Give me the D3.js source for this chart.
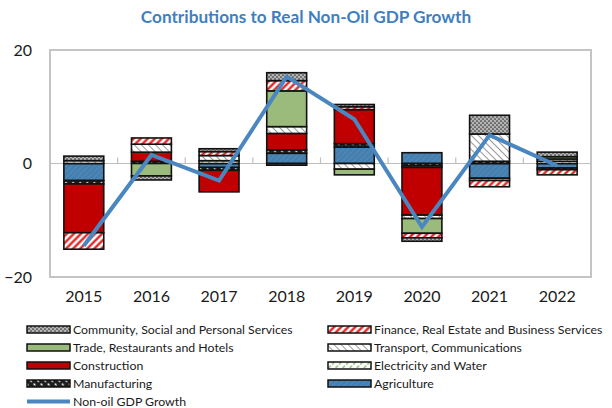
<!DOCTYPE html>
<html>
<head>
<meta charset="utf-8">
<script src="https://cdn.jsdelivr.net/npm/d3@7"></script>
<style>
  html, body { margin: 0; padding: 0; background: #fff; }
  svg { display: block; font-family: Lato, "Open Sans", sans-serif; }
</style>
</head>
<body>
<svg id="chart" width="612" height="408"></svg>
<script>
// Years on the x axis
const years = ["2015", "2016", "2017", "2018", "2019", "2020", "2021", "2022"];

// Sector contributions (percentage points), stacking order from the zero line outward
const agriculture  = [-3.0,  0.0, -0.7,  1.8,  2.9,  1.9, -2.6, -0.8];
const manufacturing= [-0.6,  0.4, -0.5,  0.6,  0.6, -0.4,  0.4, -0.3];
const electricity  = [ 0.0,  0.0,  0.5, -0.3,  0.0, -0.3, -0.4,  0.4];
const construction = [-8.6,  1.6, -3.8,  2.9,  6.0, -8.4,  0.0,  0.0];
const transport    = [ 0.5,  1.4,  0.9,  1.2, -1.0, -0.6,  4.8,  0.4];
const trade        = [ 0.0, -2.2,  0.0,  6.3, -1.0, -2.6,  0.0,  0.4];
const finance      = [-2.9,  1.1,  0.7,  1.8,  0.5, -0.8, -1.1, -0.9];
const community    = [ 0.8, -0.7,  0.5,  1.4,  0.4, -0.6,  3.3,  0.8];

// Headline series drawn as a line
const nonOilGrowth = [-14.5, 1.5, -3.0, 15.3, 7.8, -11.2, 5.0, -0.4];

// y-axis tick labels
const yTicks = [-20, 0, 20];

const sectors = [
  { key: "agriculture",   name: "Agriculture",                              values: agriculture,   fill: "url(#pat-agri)" },
  { key: "manufacturing", name: "Manufacturing",                            values: manufacturing, fill: "url(#pat-manuf)" },
  { key: "electricity",   name: "Electricity and Water",                    values: electricity,   fill: "url(#pat-elec)" },
  { key: "construction",  name: "Construction",                             values: construction,  fill: "#c00000" },
  { key: "transport",     name: "Transport, Communications",                values: transport,     fill: "url(#pat-transport)" },
  { key: "trade",         name: "Trade, Restaurants and Hotels",            values: trade,         fill: "#9bbb7d" },
  { key: "finance",       name: "Finance, Real Estate and Business Services", values: finance,     fill: "url(#pat-finance)" },
  { key: "community",     name: "Community, Social and Personal Services",  values: community,     fill: "url(#pat-community)" }
];

const table = years.map((y, i) => {
  const row = { year: y };
  sectors.forEach(s => { row[s.key] = s.values[i]; });
  return row;
});

const svg = d3.select("#chart");
const lineColor = "#4a86bf";

// ---- patterns ----
const defs = svg.append("defs");
function stripePattern(id, bg, color, size, width, angle, dash) {
  const p = defs.append("pattern").attr("id", id)
    .attr("patternUnits", "userSpaceOnUse").attr("width", size).attr("height", size)
    .attr("patternTransform", `rotate(${angle})`);
  p.append("rect").attr("width", size).attr("height", size).attr("fill", bg);
  const l = p.append("line").attr("x1", size / 2).attr("x2", size / 2)
    .attr("y1", 0).attr("y2", size)
    .attr("stroke", color).attr("stroke-width", width);
  if (dash) l.attr("stroke-dasharray", dash);
}
stripePattern("pat-finance", "#ffffff", "#e01010", 5, 2.2, 45);
stripePattern("pat-transport", "#ffffff", "#9a9a9a", 5, 1, -45);
stripePattern("pat-elec", "#ffffff", "#86b56a", 5, 1.4, 45, "3 1.5");
stripePattern("pat-manuf", "#1c1c1c", "#ffffff", 5, 1.4, -45, "2.5 2.5");
stripePattern("pat-agri", "#4b86b6", "#3f76a3", 4, 1, 45);

const dots = defs.append("pattern").attr("id", "pat-community")
  .attr("patternUnits", "userSpaceOnUse").attr("width", 4).attr("height", 4);
dots.append("rect").attr("width", 4).attr("height", 4).attr("fill", "#b4b4b4");
dots.append("circle").attr("cx", 1).attr("cy", 1).attr("r", 0.85).attr("fill", "#333");
dots.append("circle").attr("cx", 3).attr("cy", 3).attr("r", 0.85).attr("fill", "#333");

// ---- scales ----
const plot = { left: 50, right: 591, top: 50, bottom: 277 };
const x = d3.scaleBand().domain(years).range([plot.left, plot.right])
  .paddingInner(0.41).paddingOuter(0.205);
const y = d3.scaleLinear().domain([-20, 20]).range([plot.bottom, plot.top]);

// ---- title ----
svg.append("text")
  .attr("x", 306).attr("y", 23)
  .attr("text-anchor", "middle")
  .attr("font-size", 17.2).attr("font-weight", "bold")
  .attr("fill", "#3f7fbf")
  .text("Contributions to Real Non-Oil GDP Growth");

// ---- plot frame ----
svg.append("rect")
  .attr("x", plot.left).attr("y", plot.top)
  .attr("width", plot.right - plot.left).attr("height", plot.bottom - plot.top)
  .attr("fill", "none").attr("stroke", "#c4c4c4").attr("stroke-width", 2);

// zero line with category separators
const zeroY = y(0);
svg.append("line")
  .attr("x1", plot.left).attr("x2", plot.right)
  .attr("y1", zeroY).attr("y2", zeroY)
  .attr("stroke", "#bfbfbf").attr("stroke-width", 1.2);
const gapHalf = (x.step() - x.bandwidth()) / 2;
svg.append("g").selectAll("line")
  .data(years.slice(1))
  .join("line")
  .attr("x1", d => x(d) - gapHalf).attr("x2", d => x(d) - gapHalf)
  .attr("y1", zeroY - 6).attr("y2", zeroY)
  .attr("stroke", "#bfbfbf").attr("stroke-width", 1.2);

// ---- axes ----
const yAxis = svg.append("g")
  .attr("transform", `translate(${plot.left},0)`)
  .call(d3.axisLeft(y).tickValues(yTicks).tickSize(0).tickPadding(18).tickFormat(d3.format("d")));
yAxis.select(".domain").remove();
yAxis.selectAll("text").attr("font-size", 16).attr("fill", "#1a1a1a")
  .style("font-family", "Lato, sans-serif");

const xAxis = svg.append("g")
  .attr("transform", `translate(0,${plot.bottom})`)
  .call(d3.axisBottom(x).tickSize(0).tickPadding(14));
xAxis.select(".domain").remove();
xAxis.selectAll("text").attr("font-size", 16).attr("fill", "#1a1a1a")
  .style("font-family", "Lato, sans-serif");

// ---- stacked bars ----
const stack = d3.stack()
  .keys(sectors.map(s => s.key))
  .offset(d3.stackOffsetDiverging);
const series = stack(table);

svg.append("g").selectAll("g")
  .data(series)
  .join("g")
  .attr("fill", (d, i) => sectors[i].fill)
  .selectAll("rect")
  .data(d => d.filter(p => p[1] - p[0] !== 0))
  .join("rect")
  .attr("x", d => x(d.data.year))
  .attr("width", x.bandwidth())
  .attr("y", d => y(Math.max(d[0], d[1])))
  .attr("height", d => Math.abs(y(d[0]) - y(d[1])))
  .attr("stroke", "#111")
  .attr("stroke-width", 1.6);

// ---- growth line ----
const line = d3.line()
  .x((d, i) => x(years[i]) + x.bandwidth() / 2)
  .y(d => y(d));
svg.append("path")
  .datum(nonOilGrowth)
  .attr("d", line)
  .attr("fill", "none")
  .attr("stroke", lineColor)
  .attr("stroke-width", 4)
  .attr("stroke-linejoin", "miter");

// ---- legend ----
const legendOrder = ["community", "finance", "trade", "transport", "construction", "electricity", "manufacturing", "agriculture"];
const colX = [27, 328];
const rowY = [329.5, 347.5, 365.5, 383.5, 401.5];
const legend = svg.append("g").attr("font-size", 12.3).attr("fill", "#1a1a1a");
legendOrder.forEach((k, i) => {
  const s = sectors.find(d => d.key === k);
  const cx = colX[i % 2], cy = rowY[Math.floor(i / 2)];
  legend.append("rect")
    .attr("x", cx).attr("y", cy - 3.5).attr("width", 43).attr("height", 7)
    .attr("fill", s.fill).attr("stroke", "#111").attr("stroke-width", 1.5);
  legend.append("text")
    .attr("x", cx + 46).attr("y", cy).attr("dy", "0.35em")
    .text(s.name);
});
legend.append("line")
  .attr("x1", colX[0]).attr("x2", colX[0] + 43)
  .attr("y1", rowY[4]).attr("y2", rowY[4])
  .attr("stroke", lineColor).attr("stroke-width", 4);
legend.append("text")
  .attr("x", colX[0] + 46).attr("y", rowY[4]).attr("dy", "0.35em")
  .text("Non-oil GDP Growth");
</script>
</body>
</html>
